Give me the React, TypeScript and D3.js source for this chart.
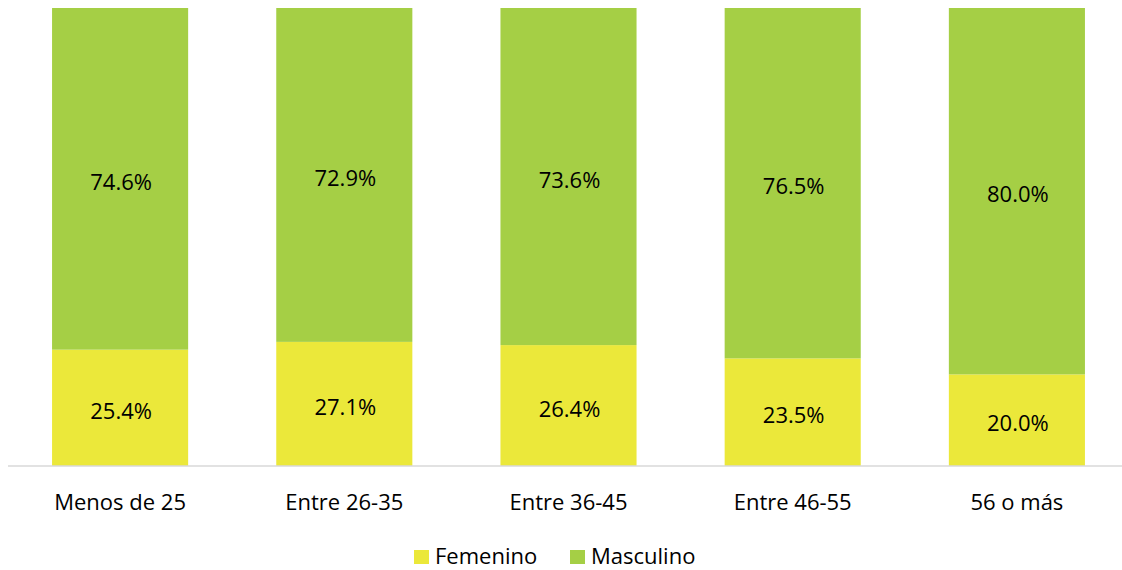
import React from "react";
import * as d3 from "d3";

const categories = ["Menos de 25", "Entre 26-35", "Entre 36-45", "Entre 46-55", "56 o más"];
const femenino = [25.4, 27.1, 26.4, 23.5, 20.0];
const masculino = [74.6, 72.9, 73.6, 76.5, 80.0];
const seriesNames = ["Femenino", "Masculino"];
const seriesColors = ["#EBE83A", "#A5CF45"];

const W = 1122;
const H = 570;
const FONT = "'Open Sans', Lato, sans-serif";

export default function App() {
  const top = 8;
  const bottom = 466;
  const x = d3.scaleBand<string>().domain(categories).range([8, 1129]).paddingInner(0.393).paddingOuter(0.1965);
  const y = d3.scaleLinear().domain([0, 100]).range([bottom, top]);
  const data = categories.map((c, i) => ({ cat: c, Femenino: femenino[i], Masculino: masculino[i] }));
  const stack = d3.stack<any>().keys(seriesNames)(data);

  return (
    <svg width={W} height={H} style={{ position: "absolute", left: 0, top: 0, fontFamily: FONT }}>
      <rect width={W} height={H} fill="#fff" />
      {stack.map((s, si) => (
        <g key={s.key}>
          {s.map((d, i) => (
            <g key={i}>
              <rect
                x={x(categories[i])}
                y={y(d[1])}
                width={x.bandwidth()}
                height={y(d[0]) - y(d[1])}
                fill={seriesColors[si]}
              />
              <text
                x={(x(categories[i]) as number) + x.bandwidth() / 2 + 1}
                y={(y(d[0]) + y(d[1])) / 2 + 11}
                textAnchor="middle"
                fontSize={22}
                fill="#000"
              >
                {(d[1] - d[0]).toFixed(1)}%
              </text>
            </g>
          ))}
        </g>
      ))}
      <line x1={8} x2={W} y1={bottom} y2={bottom} stroke="#D9D9D9" strokeWidth={1.5} />
      {categories.map((c) => (
        <text
          key={c}
          x={(x(c) as number) + x.bandwidth() / 2}
          y={510}
          textAnchor="middle"
          fontSize={22}
          fill="#000"
        >
          {c}
        </text>
      ))}
      {seriesNames.map((n, i) => {
        const lx = i === 0 ? 414 : 570;
        return (
          <g key={n}>
            <rect x={lx} y={550} width={15} height={14} fill={seriesColors[i]} />
            <text x={lx + 21} y={564} fontSize={22} fill="#000">
              {n}
            </text>
          </g>
        );
      })}
    </svg>
  );
}
